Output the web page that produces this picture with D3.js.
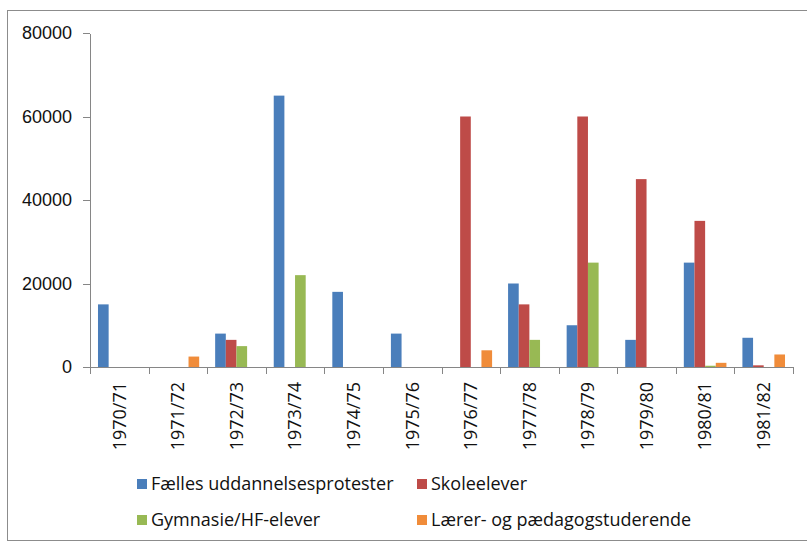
<!DOCTYPE html>
<html>
<head>
<meta charset="utf-8">
<script src="https://cdn.jsdelivr.net/npm/d3@7"></script>
<style>
  body { margin: 0; background: #fff; }
  svg { display: block; font-family: 'Open Sans', sans-serif; }
  .axis path, .axis line { stroke: #868686; shape-rendering: crispEdges; }
  .axis text { fill: #111; font-size: 18px; }
  .legend text { fill: #111; font-size: 18px; }
</style>
</head>
<body>
<div id="chart"></div>
<script>
// categories (school years)
const categories = ['1970/71', '1971/72', '1972/73', '1973/74', '1974/75', '1975/76',
  '1976/77', '1977/78', '1978/79', '1979/80', '1980/81', '1981/82'];

const seriesNames = ['Fælles uddannelsesprotester', 'Skoleelever', 'Gymnasie/HF-elever', 'Lærer- og pædagogstuderende'];
const seriesColors = ['#4A7EBB', '#BE4B48', '#98B954', '#F08C3A'];

const faellesValues = [15000, 0, 8000, 65000, 18000, 8000, 0, 20000, 10000, 6500, 25000, 7000];
const skoleValues = [0, 0, 6500, 0, 0, 0, 60000, 15000, 60000, 45000, 35000, 400];
const gymnasieValues = [0, 0, 5000, 22000, 0, 0, 0, 6500, 25000, 0, 300, 0];
const laererValues = [0, 2500, 0, 0, 0, 0, 4000, 0, 0, 0, 1000, 3000];

const yTicks = [0, 20000, 40000, 60000, 80000];

const width = 807;
const height = 542;
const plot = { left: 90, right: 793, top: 33, bottom: 367 };

const allSeries = [faellesValues, skoleValues, gymnasieValues, laererValues];
const dataset = categories.map((cat, i) => ({
  key: cat,
  values: seriesNames.map((name, s) => ({ key: name, value: allSeries[s][i] }))
}));

const svg = d3.select('#chart')
  .append('svg')
    .attr('width', width)
    .attr('height', height);

svg.append('rect')
    .attr('x', 0).attr('y', 0)
    .attr('width', width).attr('height', height)
    .attr('fill', '#fff');

// outer chart border
svg.append('rect')
    .attr('x', 7.5).attr('y', 10.5)
    .attr('width', 820).attr('height', 530)
    .attr('fill', 'none')
    .attr('stroke', '#8c8c8c');

const x0 = d3.scaleBand()
    .domain(categories)
    .range([plot.left, plot.right])
    .paddingInner(0)
    .paddingOuter(0);

// Excel-like gap width 150%
const barWidth = x0.bandwidth() / 5.5;
const x1 = d3.scaleBand()
    .domain(seriesNames)
    .range([barWidth * 0.75, barWidth * 4.75]);

const y = d3.scaleLinear()
    .domain([0, 80000])
    .range([plot.bottom, plot.top]);

const z = d3.scaleOrdinal()
    .domain(seriesNames)
    .range(seriesColors);

// bars
const groups = svg.append('g')
    .attr('class', 'bars')
  .selectAll('g')
  .data(dataset)
  .enter().append('g')
    .attr('transform', (d) => 'translate(' + x0(d.key) + ',0)');

groups.selectAll('rect')
  .data((d) => d.values)
  .enter().append('rect')
    .attr('x', (d) => x1(d.key))
    .attr('y', (d) => y(d.value))
    .attr('width', x1.bandwidth())
    .attr('height', (d) => y(0) - y(d.value))
    .attr('fill', (d) => z(d.key));

// y axis
svg.append('g')
    .attr('class', 'axis axis-y')
    .attr('transform', 'translate(' + plot.left + ',0)')
    .call(d3.axisLeft(y)
      .tickValues(yTicks)
      .tickSize(7)
      .tickPadding(11)
      .tickSizeOuter(0)
      .tickFormat(d3.format('d')));

// x axis: ticks on category boundaries
const xAxis = svg.append('g')
    .attr('class', 'axis axis-x')
    .attr('transform', 'translate(0,' + plot.bottom + ')');

xAxis.append('path')
    .attr('d', 'M' + plot.left + ',0.5H' + plot.right);

const boundaries = categories.map((c) => x0(c)).concat([plot.right]);
xAxis.selectAll('line')
  .data(boundaries)
  .enter().append('line')
    .attr('x1', (d) => Math.round(d) + 0.5)
    .attr('x2', (d) => Math.round(d) + 0.5)
    .attr('y1', 0)
    .attr('y2', 7);

xAxis.selectAll('text')
  .data(categories)
  .enter().append('text')
    .attr('text-anchor', 'end')
    .attr('dy', '0.35em')
    .attr('transform', (d) => 'translate(' + (x0(d) + x0.bandwidth() / 2) + ',15) rotate(-90)')
    .text((d) => d);

// legend
const legendPos = [
  { x: 137, y: 484 },
  { x: 417, y: 484 },
  { x: 137, y: 520 },
  { x: 417, y: 520 }
];

const legend = svg.append('g')
    .attr('class', 'legend')
  .selectAll('g')
  .data(seriesNames)
  .enter().append('g')
    .attr('transform', (d, i) => 'translate(' + legendPos[i].x + ',' + legendPos[i].y + ')');

legend.append('rect')
    .attr('x', 0)
    .attr('y', -5)
    .attr('width', 10)
    .attr('height', 10)
    .attr('fill', z);

legend.append('text')
    .attr('x', 14)
    .attr('y', 0)
    .attr('dy', '0.35em')
    .text((d) => d);
</script>
</body>
</html>
